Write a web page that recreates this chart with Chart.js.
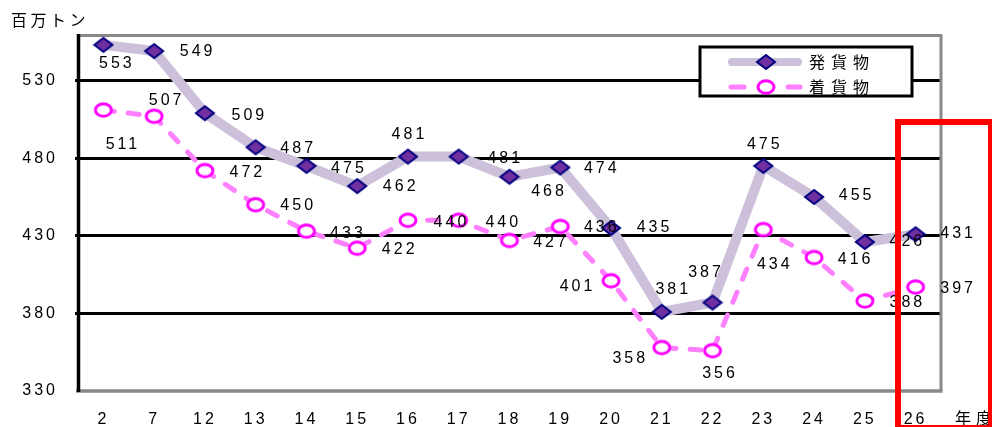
<!DOCTYPE html>
<html>
<head>
<meta charset="utf-8">
<script src="https://cdn.jsdelivr.net/npm/chart.js@4.4.1/dist/chart.umd.min.js"></script>
<style>
  html, body { margin: 0; padding: 0; background: #fff; }
  #wrap { width: 992px; height: 427px; }
</style>
</head>
<body>
<div id="wrap"><canvas id="cargoChart"></canvas></div>
<script>
const years = ["2", "7", "12", "13", "14", "15", "16", "17", "18", "19", "20", "21", "22", "23", "24", "25", "26"];
const shipped = [553, 549, 509, 487, 475, 462, 481, 481, 468, 474, 435, 381, 387, 475, 455, 426, 431];
const arrived = [511, 507, 472, 450, 433, 422, 440, 440, 427, 436, 401, 358, 356, 434, 416, 388, 397];
const yTicks = [330, 380, 430, 480, 530];

// where each value label sits, relative to its point
const shippedLabelPos = [[12, 19], [42, 1], [43, 2], [41, 1], [41, 3], [42, 0], [0, -22], [45, 2], [38, 15],
  [40, 1], [42, 0], [10, -22], [-8, -30], [0, -21], [41, -1], [41, 0], [41, -1]];
const arrivedLabelPos = [[18, 35], [11, -16], [41, 2], [41, 1], [40, 2], [41, 1], [42, 2], [43, 2], [40, 2],
  [40, 1], [-35, 6], [-33, 11], [6, 23], [10, 35], [40, 2], [41, 2], [41, 2]];

const NUM_FONT = '16px "Liberation Sans", Arial, sans-serif';
const JP_FONT = '16px "Noto Sans CJK JP", sans-serif';

// Excel style markers are a bit wider than tall
function makeDiamond() {
  const c = document.createElement("canvas");
  c.width = 22; c.height = 18;
  const g = c.getContext("2d");
  g.beginPath();
  g.moveTo(11, 2); g.lineTo(20, 9); g.lineTo(11, 16); g.lineTo(2, 9);
  g.closePath();
  g.fillStyle = "#7030A0";
  g.fill();
  g.lineWidth = 2;
  g.strokeStyle = "#000080";
  g.stroke();
  return c;
}

function makeRing() {
  const c = document.createElement("canvas");
  c.width = 22; c.height = 18;
  const g = c.getContext("2d");
  g.beginPath();
  g.ellipse(11, 9, 8, 6.2, 0, 0, Math.PI * 2);
  g.fillStyle = "#fff";
  g.fill();
  g.lineWidth = 3;
  g.strokeStyle = "#FF00FF";
  g.stroke();
  return c;
}

const diamond = makeDiamond();
const ring = makeRing();

const spacing = {
  id: "spacing",
  beforeLayout(chart) { chart.ctx.letterSpacing = "3px"; },
  beforeDraw(chart) { chart.ctx.letterSpacing = "3px"; }
};

const frame = {
  id: "frame",
  beforeDatasetsDraw(chart) {
    const { ctx, chartArea: a } = chart;
    ctx.save();
    ctx.strokeStyle = "#888";
    ctx.lineWidth = 3;
    ctx.beginPath();
    ctx.moveTo(a.left, a.top + 1.5);
    ctx.lineTo(a.right, a.top + 1.5);
    ctx.lineTo(a.right, a.bottom);
    ctx.stroke();
    ctx.lineWidth = 3.5;
    ctx.beginPath();
    ctx.moveTo(a.left - 2, a.bottom);
    ctx.lineTo(a.right + 1.5, a.bottom);
    ctx.stroke();
    ctx.strokeStyle = "#000";
    ctx.lineWidth = 3.5;
    ctx.beginPath();
    ctx.moveTo(a.left + 0.5, a.top);
    ctx.lineTo(a.left + 0.5, a.bottom + 1);
    ctx.stroke();
    ctx.restore();
  }
};

const extras = {
  id: "extras",
  afterDatasetsDraw(chart) {
    const ctx = chart.ctx;
    ctx.save();

    // value labels
    ctx.font = NUM_FONT;
    ctx.letterSpacing = "3px";
    ctx.fillStyle = "#000";
    ctx.textAlign = "center";
    ctx.textBaseline = "middle";
    const posSets = [shippedLabelPos, arrivedLabelPos];
    chart.data.datasets.forEach((ds, di) => {
      const meta = chart.getDatasetMeta(di);
      meta.data.forEach((pt, i) => {
        const [dx, dy] = posSets[di][i];
        ctx.fillText(String(ds.data[i]), pt.x + dx + 1.5, pt.y + dy);
      });
    });

    // legend box
    const lx = 700, ly = 47, lw = 212, lh = 49;
    ctx.fillStyle = "#fff";
    ctx.fillRect(lx, ly, lw, lh);
    ctx.strokeStyle = "#000";
    ctx.lineWidth = 3;
    ctx.strokeRect(lx, ly, lw, lh);

    ctx.lineCap = "round";
    ctx.strokeStyle = chart.data.datasets[0].borderColor;
    ctx.lineWidth = 8;
    ctx.beginPath();
    ctx.moveTo(732, 62); ctx.lineTo(798, 62);
    ctx.stroke();
    ctx.drawImage(diamond, 766 - 11, 62 - 9);

    ctx.strokeStyle = chart.data.datasets[1].borderColor;
    ctx.lineWidth = 5;
    ctx.beginPath();
    ctx.moveTo(731, 87); ctx.lineTo(744, 87);
    ctx.moveTo(788, 87); ctx.lineTo(800, 87);
    ctx.stroke();
    ctx.drawImage(ring, 766 - 11, 87 - 9);

    ctx.font = JP_FONT;
    ctx.letterSpacing = "6px";
    ctx.fillStyle = "#000";
    ctx.textAlign = "left";
    ctx.fillText(chart.data.datasets[0].label, 809, 62);
    ctx.fillText(chart.data.datasets[1].label, 809, 87);

    // unit and axis title
    ctx.letterSpacing = "3.5px";
    ctx.fillText("百万トン", 11, 20);
    ctx.letterSpacing = "5px";
    ctx.fillText("年度", 955, 418);

    // red highlight box
    ctx.strokeStyle = "#FF0000";
    ctx.lineWidth = 6;
    ctx.lineCap = "butt";
    ctx.strokeRect(898, 122, 93, 306);

    ctx.restore();
  }
};

new Chart(document.getElementById("cargoChart"), {
  type: "line",
  data: {
    labels: years,
    datasets: [
      {
        label: "発貨物",
        data: shipped,
        borderColor: "#CCC0DA",
        borderWidth: 10,
        borderJoinStyle: "round",
        pointStyle: diamond,
        pointRadius: 9,
        tension: 0,
        order: 1,
      },
      {
        label: "着貨物",
        data: arrived,
        borderColor: "#FF80FF",
        borderWidth: 5,
        borderDash: [11, 14],
        borderCapStyle: "round",
        pointStyle: ring,
        pointRadius: 9,
        tension: 0,
        order: 0,
      },
    ],
  },
  options: {
    responsive: true,
    maintainAspectRatio: false,
    animation: false,
    events: [],
    layout: { padding: { top: 34, right: 51, left: 0, bottom: 0 } },
    plugins: {
      legend: { display: false },
      tooltip: { enabled: false },
    },
    scales: {
      x: {
        offset: true,
        grid: { display: false, drawTicks: false },
        border: { display: false },
        ticks: { color: "#000", font: { family: '"Liberation Sans", Arial, sans-serif', size: 16 }, padding: 19, maxRotation: 0, autoSkip: false },
        afterFit: (s) => { s.height = 36; },
      },
      y: {
        min: 330,
        max: 560,
        afterBuildTicks: (s) => { s.ticks = yTicks.map((v) => ({ value: v })); },
        grid: {
          color: (c) => (c.tick && c.tick.value === 330 ? "rgba(0,0,0,0)" : "#000"),
          lineWidth: 3,
          tickLength: 3,
        },
        border: { display: false },
        ticks: { color: "#000", font: { family: '"Liberation Sans", Arial, sans-serif', size: 16 }, padding: 17 },
        afterFit: (s) => { s.width = 78; },
      },
    },
  },
  plugins: [spacing, frame, extras],
});
</script>
</body>
</html>
